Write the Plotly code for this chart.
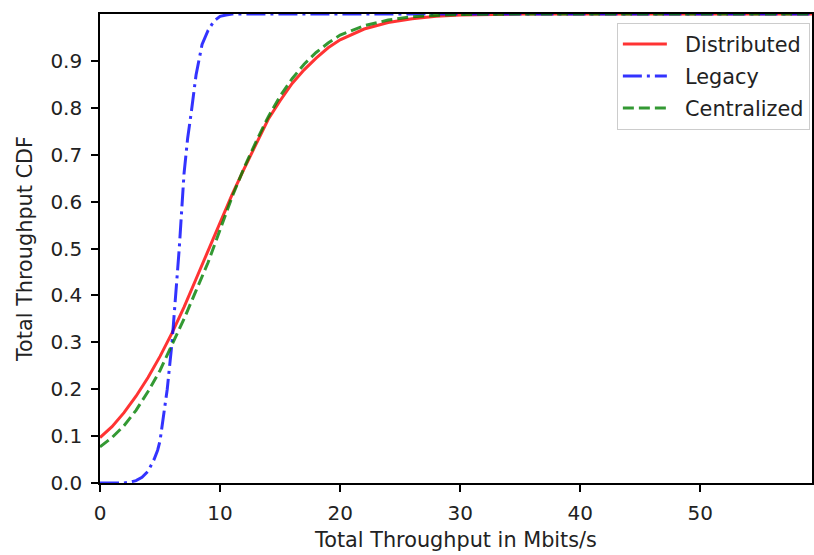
import plotly.graph_objects as go

# ---- data ----
dist_x = [0, 1, 2, 3, 4, 5, 6, 7, 8, 9, 10, 11, 12, 13, 14, 15, 16, 17, 18, 19, 20, 22, 24, 26, 28, 30, 35, 40, 59.3]
dist_y = [0.097, 0.12, 0.15, 0.185, 0.225, 0.27, 0.32, 0.375, 0.435, 0.495, 0.555, 0.615, 0.67, 0.722, 0.775, 0.815, 0.852, 0.881, 0.906, 0.928, 0.945, 0.968, 0.982, 0.99, 0.995, 0.998, 1.0, 1.0, 1.0]

legacy_x = [0, 1, 2, 2.5, 3, 3.5, 4, 4.5, 4.8, 5, 5.3, 5.6, 6, 6.3, 6.6, 7, 7.3, 7.6, 8, 8.5, 9, 9.5, 10, 10.5, 11, 12, 59.3]
legacy_y = [0.0, 0.0, 0.0, 0.002, 0.005, 0.012, 0.025, 0.05, 0.07, 0.09, 0.14, 0.2, 0.3, 0.4, 0.5, 0.66, 0.735, 0.79, 0.87, 0.935, 0.965, 0.985, 0.995, 0.998, 1.0, 1.0, 1.0]

cent_x = [0, 1, 2, 3, 4, 5, 6, 7, 8, 9, 10, 11, 12, 13, 14, 15, 16, 17, 18, 19, 20, 22, 24, 26, 28, 30, 35, 40, 59.3]
cent_y = [0.077, 0.097, 0.122, 0.155, 0.195, 0.24, 0.295, 0.35, 0.41, 0.47, 0.54, 0.61, 0.672, 0.728, 0.78, 0.825, 0.862, 0.893, 0.918, 0.938, 0.955, 0.975, 0.987, 0.994, 0.997, 0.999, 1.0, 1.0, 1.0]

series_names = ["Distributed", "Legacy", "Centralized"]
x_ticks = [0, 10, 20, 30, 40, 50]
y_ticks = [0.0, 0.1, 0.2, 0.3, 0.4, 0.5, 0.6, 0.7, 0.8, 0.9]
x_max = 59.3

FONT = "DejaVu Sans"
TXT = "#222"
FS = 20.8
PAD = "\u00a0\u00a0"

fig = go.Figure()
fig.add_trace(go.Scatter(x=dist_x, y=dist_y, mode="lines", name=PAD + series_names[0],
                         legendgroup="a",
                         line=dict(color="rgba(255,0,0,0.8)", width=3)))
fig.add_trace(go.Scatter(x=legacy_x, y=legacy_y, mode="lines", name=PAD + series_names[1],
                         legendgroup="b",
                         line=dict(color="rgba(0,0,255,0.8)", width=3, dash="19px,5px,3px,5px")))
fig.add_trace(go.Scatter(x=cent_x, y=cent_y, mode="lines", name=PAD + series_names[2],
                         legendgroup="c",
                         line=dict(color="rgba(0,128,0,0.8)", width=3, dash="11px,5px")))

axis_common = dict(showline=True, linecolor="black", linewidth=1.6, mirror=True,
                   ticks="outside", ticklen=7, tickwidth=1.6, tickcolor="black",
                   showgrid=False, zeroline=False, automargin=False,
                   tickfont=dict(family=FONT, size=20, color=TXT))

fig.update_layout(
    width=814, height=555,
    margin=dict(l=100, r=2, t=14, b=72, autoexpand=False),
    paper_bgcolor="white", plot_bgcolor="white",
    font=dict(family=FONT, size=FS, color=TXT),
    showlegend=True,
    legend=dict(x=0.997, y=0.981, xanchor="right", yanchor="top",
                bgcolor="rgba(255,255,255,0.8)", bordercolor="#cccccc", borderwidth=1,
                itemwidth=44, tracegroupgap=2,
                font=dict(family=FONT, size=FS, color=TXT)),
    xaxis=dict(range=[0, x_max], tickvals=x_ticks, ticktext=[str(v) for v in x_ticks],
               ticklabelstandoff=4,
               title=dict(text="Total Throughput in Mbits/s", font=dict(family=FONT, size=FS, color=TXT), standoff=9),
               **axis_common),
    yaxis=dict(range=[0, 1.0], tickvals=y_ticks, ticktext=[f"{v:.1f}" for v in y_ticks],
               ticklabelstandoff=5,
               title=dict(text="Total Throughput CDF", font=dict(family=FONT, size=FS, color=TXT), standoff=12),
               **axis_common),
)

fig.write_html("out.html",
               config={"displayModeBar": False},
               post_script="document.body.style.margin='0px';document.body.style.overflow='hidden';")
